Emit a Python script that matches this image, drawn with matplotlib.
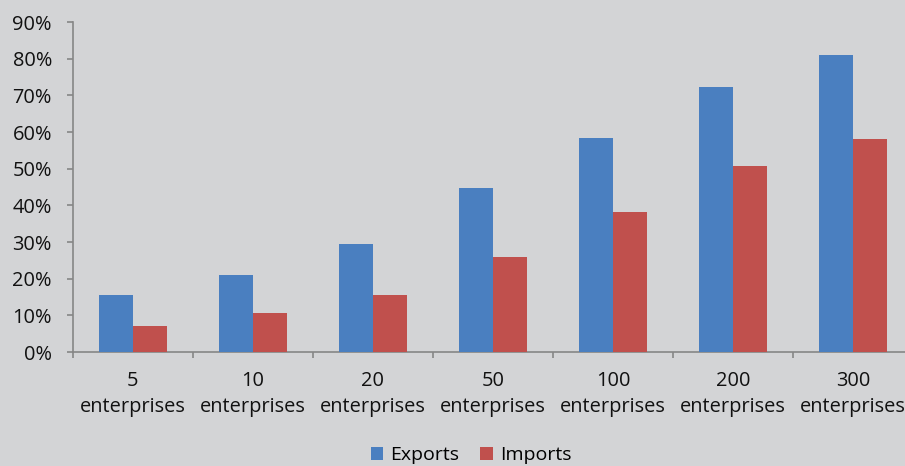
import numpy as np
import matplotlib.pyplot as plt
from matplotlib.ticker import FixedLocator, PercentFormatter

plt.rcParams['font.family'] = ['Open Sans', 'DejaVu Sans']

sizes = ['5', '10', '20', '50', '100', '200', '300']
exports = [15.5, 21.0, 29.5, 44.7, 58.4, 72.3, 80.9]
imports = [7.0, 10.6, 15.5, 25.9, 38.2, 50.7, 58.0]

bg = '#d3d4d6'
blue = '#4a7fc0'
red = '#c0504d'
axcol = '#868686'

fig = plt.figure(figsize=(9.05, 4.66), dpi=100, facecolor=bg)
ax = fig.add_axes([72.5 / 905, 1 - 352 / 466, 840.7 / 905, 330 / 466])
ax.set_facecolor(bg)

x = np.arange(len(sizes))
w = 34 / 120
ax.bar(x - w / 2, exports, w, color=blue, label='Exports', zorder=3)
ax.bar(x + w / 2, imports, w, color=red, label='Imports', zorder=3)

ax.set_xlim(-0.5, len(sizes) - 0.5)
ax.set_ylim(0, 90)
ax.set_yticks(np.arange(0, 91, 10))
ax.yaxis.set_major_formatter(PercentFormatter(decimals=0))

ax.set_xticks(x)
ax.set_xticklabels([s + '\nenterprises' for s in sizes], linespacing=1.38)
ax.xaxis.set_minor_locator(FixedLocator(np.arange(-0.5, len(sizes), 1)))
ax.tick_params(axis='x', which='major', length=0, pad=14, labelsize=14.4, colors='#111111')
ax.tick_params(axis='x', which='minor', length=4.3, width=1.2, color=axcol, direction='out')
ax.tick_params(axis='y', length=4.3, width=1.2, color=axcol, labelsize=14.4, labelcolor='#111111', pad=10.5)

for s in ['top', 'right']:
    ax.spines[s].set_visible(False)
for s in ['left', 'bottom']:
    ax.spines[s].set_color(axcol)
    ax.spines[s].set_linewidth(1.2)

fig.legend(loc='center', bbox_to_anchor=(471 / 905, 1 - 455 / 466), ncol=2,
           frameon=False, fontsize=14, handlelength=0.65, handleheight=0.65,
           handletextpad=0.35, columnspacing=1.1, borderpad=0.1)

fig.savefig('out.png', dpi=100, facecolor=bg)
